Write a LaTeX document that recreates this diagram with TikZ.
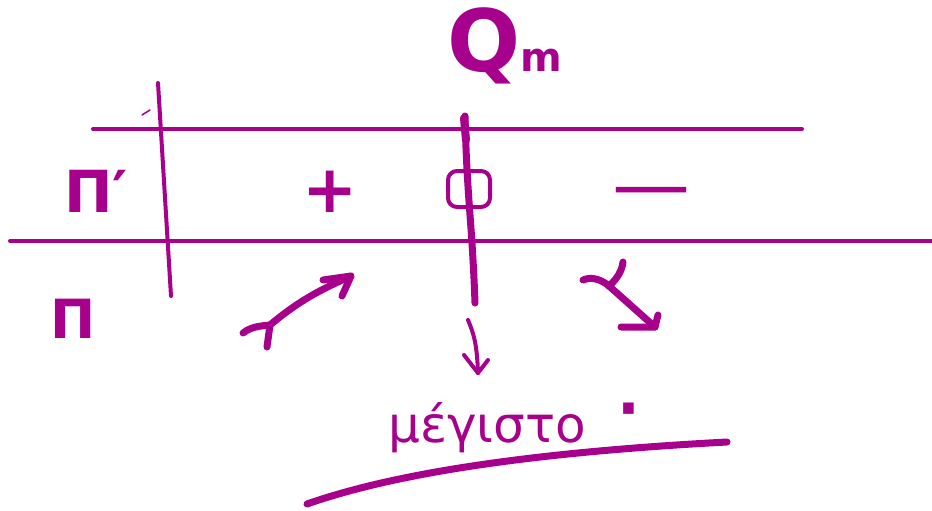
\documentclass[tikz,border=0pt]{standalone}
\usepackage{fontspec}
\setmainfont{DejaVu Sans}
\definecolor{ink}{RGB}{166,0,140}
\begin{document}
\begin{tikzpicture}[x=1pt,y=-1pt,
  pen/.style={draw=ink,line width=#1,line cap=round,line join=round},
  pen/.default=4pt,
  lbl/.style={text=ink,inner sep=0pt,anchor=base west,font=\bfseries}]
\useasboundingbox (0,0) rectangle (932,511);
% horizontal rows
\coordinate (t1) at (93,129); \coordinate (t2) at (802,129);
\coordinate (b1) at (10,241); \coordinate (b2) at (932,241);
\draw[pen] (t1) -- (t2);
\draw[pen] (b1) -- (b2);
% left vertical separator and stray tick
\coordinate (v1) at (158,83); \coordinate (v2) at (171,296);
\draw[pen] (v1) -- (v2);
\coordinate (k1) at (142,115); \coordinate (k2) at (150,110);
\draw[pen=1.5pt] (k1) -- (k2);
% labels
\node[lbl] (dpi) at (64,212) {\fontsize{58}{62}\selectfont Π′};
\node[lbl] (pi) at (50,338) {\fontsize{54}{58}\selectfont Π};
\node[lbl,font=\mdseries] (qm) at (447,72) {{\fontsize{86}{90}\selectfont\bfseries Q}{\fontsize{40}{44}\selectfont\bfseries m}};
\node[text=ink,inner sep=0pt,font=\bfseries] (plus) at (330,192) {\fontsize{66}{70}\selectfont +};
\node[text=ink,inner sep=0pt] (minus) at (651,199) {\fontsize{78}{80}\selectfont —};
% central vertical line with zero
\coordinate (c1) at (465,116); \coordinate (c2) at (475,303);
\draw[pen=7pt] (c1) .. controls (467,200) and (472,220) .. (c2);
\draw[pen=8pt] (464,118) -- (466,140);
\draw[pen=4pt,rounded corners=9pt] (448,171) rectangle (490,207);
% increasing arrow
\coordinate (a0) at (243,333); \coordinate (a1) at (270,325);
\coordinate (a2) at (267,347); \coordinate (atip) at (351,276);
\draw[pen=7pt] (a0) .. controls (252,326) and (262,326) .. (a1);
\draw[pen=7pt] (a1) -- (a2);
\draw[pen=7pt] (a1) .. controls (300,300) and (320,290) .. (atip);
\draw[pen=7pt] (323,280) -- (atip) -- (342,296);
% decreasing arrow
\coordinate (d0) at (583,280); \coordinate (d1) at (609,286);
\coordinate (d2) at (623,262); \coordinate (dtip) at (655,327);
\draw[pen=7pt] (d0) .. controls (592,276) and (602,280) .. (d1);
\draw[pen=7pt] (d1) .. controls (618,278) and (622,270) .. (d2);
\draw[pen=7pt] (d1) -- (dtip);
\draw[pen=7pt] (621,327) -- (dtip) -- (658,315);
% small down arrow
\coordinate (s0) at (468,320); \coordinate (stip) at (478,373);
\draw[pen=4pt] (s0) .. controls (474,334) and (477,345) .. (stip);
\draw[pen=4pt] (464,355) -- (stip) -- (488,360);
% conclusion
\node[lbl,font=\mdseries] (word) at (388,442) {\fontsize{50}{54}\selectfont μέγιστο};
\node[text=ink,inner sep=0pt,font=\bfseries] (dot) at (629,416) {\fontsize{60}{64}\selectfont ·};
\coordinate (u1) at (307,504); \coordinate (u2) at (727,442);
\draw[pen=7pt] (u1) .. controls (390,475) and (520,453) .. (u2);
\end{tikzpicture}
\end{document}
